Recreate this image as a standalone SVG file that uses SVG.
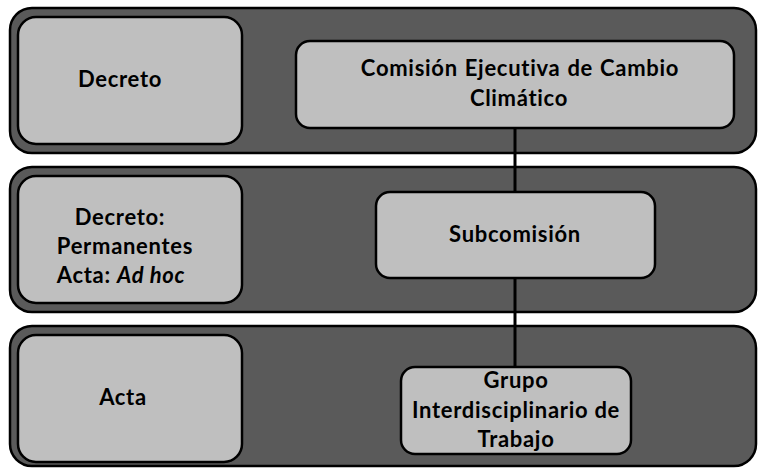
<svg xmlns="http://www.w3.org/2000/svg" width="759" height="468" viewBox="0 0 759 468">
<style>
.band{fill:#5a5a5a;stroke:#000;stroke-width:2.5}
.box{fill:#bfbfbf;stroke:#000;stroke-width:2.5}
.t{font-family:Lato,"Liberation Sans",sans-serif;font-weight:bold;font-size:22px;letter-spacing:0.7px;fill:#000;text-anchor:middle}
.con{stroke:#000;stroke-width:3;fill:none}
</style>
<rect width="759" height="468" fill="#fff"/>
<g id="band1"><rect class="band" x="10" y="8" width="746" height="145" rx="22"/></g>
<g id="band2"><rect class="band" x="10" y="167" width="746" height="145" rx="22"/></g>
<g id="band3"><rect class="band" x="10" y="326" width="746" height="140" rx="22"/></g>
<g id="connectors">
<line class="con" x1="515" y1="128" x2="515" y2="192"/>
<line class="con" x1="515" y1="278" x2="515" y2="367"/>
</g>
<g id="decreto"><rect class="box" x="18" y="17" width="224" height="127" rx="18"/>
<text class="t" x="120" y="87">Decreto</text></g>
<g id="comision"><rect class="box" x="296" y="41" width="438" height="87" rx="14"/>
<text class="t" x="520" y="76" word-spacing="1">Comisión Ejecutiva de Cambio</text>
<text class="t" x="519" y="106">Climático</text></g>
<g id="decreto-perm"><rect class="box" x="18" y="176" width="224" height="127" rx="18"/>
<text class="t" x="120" y="225">Decreto:</text>
<text class="t" x="125" y="254">Permanentes</text>
<text class="t" x="121" y="283">Acta: <tspan font-style="italic">Ad hoc</tspan></text></g>
<g id="subcomision"><rect class="box" x="376" y="192" width="279" height="86" rx="14"/>
<text class="t" x="515" y="242">Subcomisión</text></g>
<g id="acta"><rect class="box" x="18" y="335" width="224" height="127" rx="18"/>
<text class="t" x="123" y="405">Acta</text></g>
<g id="grupo"><rect class="box" x="401" y="367" width="230" height="87" rx="14"/>
<text class="t" x="516" y="388">Grupo</text>
<text class="t" x="516" y="418">Interdisciplinario de</text>
<text class="t" x="516" y="447">Trabajo</text></g>
</svg>
